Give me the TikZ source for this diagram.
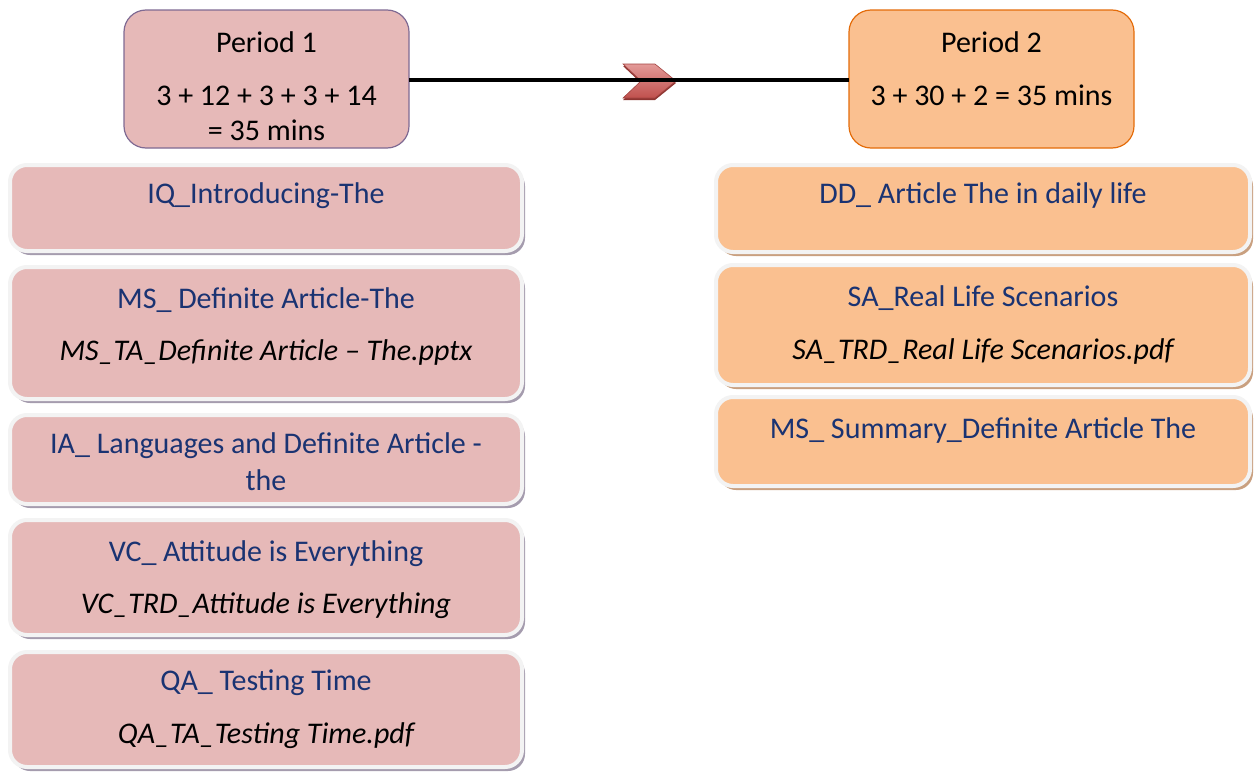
\documentclass[tikz,border=0pt]{standalone}
\usepackage{fontspec}
\setmainfont{Carlito}
\usetikzlibrary{shadows}
\definecolor{lfill}{HTML}{E6B9B8}
\definecolor{rfill}{HTML}{FAC090}
\definecolor{lshadow}{HTML}{A59CAE}
\definecolor{rshadow}{HTML}{C9A080}
\definecolor{rim}{HTML}{F3F3F3}
\definecolor{pone}{HTML}{7F6A93}
\definecolor{ptwo}{HTML}{E46C0A}
\definecolor{navy}{HTML}{1A3372}
\definecolor{chev}{HTML}{C0504D}
\definecolor{chevdark}{HTML}{8E3431}
\definecolor{chevlight}{HTML}{E39A98}
\begin{document}
\begin{tikzpicture}[x=1pt,y=-1pt,
  every node/.style={inner sep=0pt, outer sep=0pt},
  itembox/.style={rectangle, rounded corners=17pt, draw=rim, line width=4pt},
  lbox/.style={itembox, fill=lfill, minimum width=512pt,
    drop shadow={shadow xshift=3pt, shadow yshift=-4pt, fill=lshadow, opacity=1}},
  rbox/.style={itembox, fill=rfill, minimum width=534pt,
    drop shadow={shadow xshift=3pt, shadow yshift=-4pt, fill=rshadow, opacity=1}},
  pbox/.style={rectangle, rounded corners=22pt, line width=1.2pt, minimum width=285pt, minimum height=138pt},
  ttl/.style={anchor=base, font=\fontsize{30}{36}\selectfont, text=navy},
  sub/.style={anchor=base, font=\fontsize{30}{36}\selectfont\itshape, text=black},
  ptxt/.style={anchor=base, font=\fontsize{30}{36}\selectfont, text=black}]
\useasboundingbox (0,0) rectangle (1255,771);

% period boxes
\node[pbox, draw=pone, fill=lfill] (p1) at (266.5,79) {};
\node[pbox, draw=ptwo, fill=rfill] (p2) at (991.5,79) {};
\node[ptxt] (p1a) at (266.5,52) {Period 1};
\node[ptxt] (p1b) at (266.5,105) {3 + 12 + 3 + 3 + 14};
\node[ptxt] (p1c) at (266.5,140) {= 35 mins};
\node[ptxt] (p2a) at (991.5,52) {Period 2};
\node[ptxt] (p2b) at (991.5,105) {3 + 30 + 2 = 35 mins};

% chevron (with darker extrusion below)
\fill[chevdark] (623,66) -- (655,66) -- (676,83) -- (655,100) -- (623,100) -- (641,83) -- cycle;
\shade[top color=chevlight, bottom color=chev, draw=chev!85!black, line width=0.6pt]
  (623,64) -- (655,64) -- (676,81) -- (655,98) -- (623,98) -- (641,81) -- cycle;
\draw[line width=4pt, black] (p1.east |- 0,80) -- (p2.west |- 0,80);

% left items
\node[lbox, minimum height=86pt] (l1) at (266,208) {};
\node[lbox, minimum height=132pt] (l2) at (266,333) {};
\node[lbox, minimum height=89pt] (l3) at (266,459.5) {};
\node[lbox, minimum height=115pt] (l4) at (266,577.5) {};
\node[lbox, minimum height=115pt] (l5) at (266,709.5) {};

\node[ttl] (l1a) at (266,203) {IQ\_Introducing-The};
\node[ttl] (l2a) at (266,308) {MS\_ Definite Article-The};
\node[sub] (l2b) at (266,360) {MS\_TA\_Definite Article – The.pptx};
\node[ttl] (l3a) at (266,453) {IA\_ Languages and Definite Article -};
\node[ttl] (l3b) at (266,490) {the};
\node[ttl] (l4a) at (266,561) {VC\_ Attitude is Everything};
\node[sub] (l4b) at (266,613) {VC\_TRD\_Attitude is Everything};
\node[ttl] (l5a) at (266,690) {QA\_ Testing Time};
\node[sub] (l5b) at (266,743) {QA\_TA\_Testing Time.pdf};

% right items
\node[rbox, minimum height=87pt] (r1) at (983,208.5) {};
\node[rbox, minimum height=120pt] (r2) at (983,325) {};
\node[rbox, minimum height=89pt] (r3) at (983,441.5) {};

\node[ttl] (r1a) at (983,203) {DD\_ Article The in daily life};
\node[ttl] (r2a) at (983,306) {SA\_Real Life Scenarios};
\node[sub] (r2b) at (983,359) {SA\_TRD\_Real Life Scenarios.pdf};
\node[ttl] (r3a) at (983,438) {MS\_ Summary\_Definite Article The};
\end{tikzpicture}
\end{document}
